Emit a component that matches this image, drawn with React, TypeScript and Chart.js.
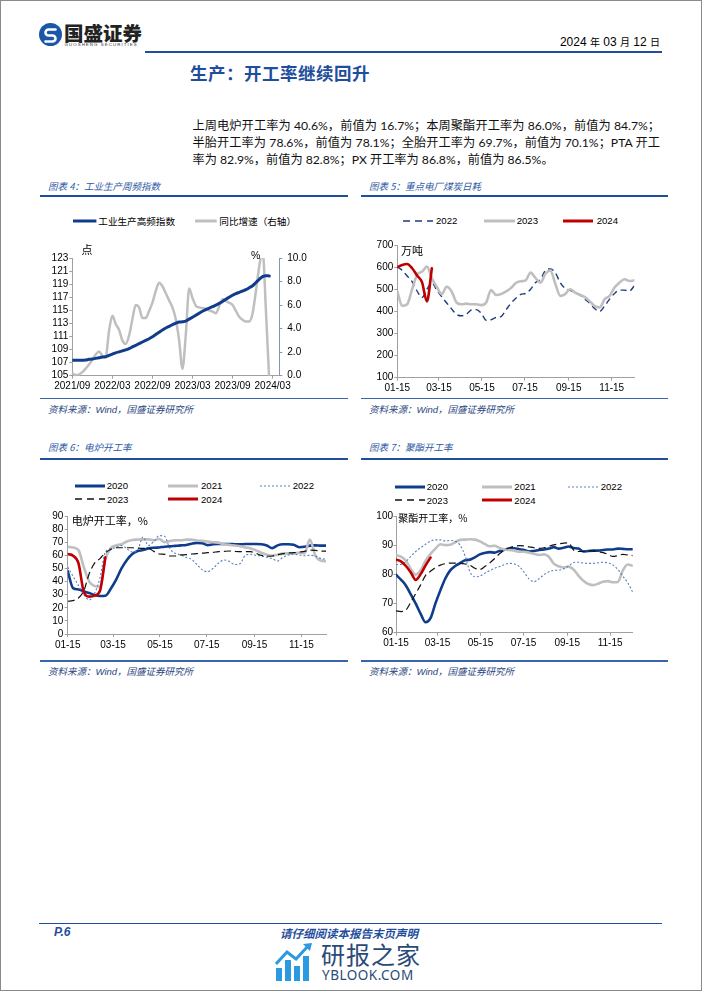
import React, { useEffect, useRef } from 'react';
import { Chart, registerables } from 'chart.js';

Chart.register(...registerables);

// ================= Chart 4: 工业生产周频指数 =================
const C4_TICK_LABELS = ['2021/09', '2022/03', '2022/09', '2023/03', '2023/09', '2024/03'];
const C4_TICK_MONTHS = [0, 6, 12, 18, 24, 30];
// half-month samples starting 2021/09
const IP_INDEX = [
  107.35, 107.35, 107.35, 107.35, 107.4, 107.5, 107.55, 107.65, 107.75, 107.85,
  107.9, 108.1, 108.3, 108.5, 108.65, 108.8, 108.95, 109.15, 109.4, 109.65,
  109.9, 110.15, 110.4, 110.65, 110.95, 111.3, 111.65, 112.0, 112.3, 112.55,
  112.8, 113.05, 113.2, 113.25, 113.35, 113.65, 113.95, 114.25, 114.55, 114.85,
  115.1, 115.35, 115.55, 115.8, 116.05, 116.35, 116.7, 117.0, 117.3, 117.55,
  117.75, 117.95, 118.15, 118.45, 118.75, 119.25, 119.75, 120.15, 120.3, 120.25,
];
const IP_YOY = [
  0.2, 0.05, 0.1, 0.3, 0.6, 0.95, 1.35, 1.8, 2.05, 1.7,
  1.6, 3.8, 5.1, 4.4, 3.9, 3.0, 2.7, 3.4, 4.8, 6.0,
  5.8, 4.9, 4.9, 5.5, 6.2, 7.2, 7.9, 7.6, 7.0, 6.4,
  5.8, 4.8, 3.0, 0.6, 3.5, 7.4, 6.6, 5.95, 5.8, 5.75,
  5.7, 5.55, 5.45, 5.3, 5.9, 6.5, 6.35, 6.2, 6.0, 5.5,
  5.0, 4.75, 4.6, 4.6, 5.3, 7.2, 9.3, 10.6, 5.5, -0.5,
];
const C4_MONTHS = IP_INDEX.map((_, i) => i / 2);

// ================= weekly charts (x = days since 01-15) =================
const WEEK_TICK_LABELS = ['01-15', '03-15', '05-15', '07-15', '09-15', '11-15'];
const WEEK_TICK_DAYS = [0, 59, 120, 181, 243, 304];
const WEEK_DAYS = Array.from({ length: 49 }, (_, i) => i * 7);

// Chart 5: 重点电厂煤炭日耗 (万吨)
const COAL_2022 = [
  602, 585, 560, 534, 492, 462, 500, 530, 495, 466, 438, 411, 386, 380, 388, 406, 408,
  392, 360, 362, 372, 376, 406, 436, 459, 477, 481, 500, 530, 545, 585, 592, 575, 530,
  504, 495, 483, 473, 455, 436, 412, 400, 425, 455, 481, 496, 496, 492, 515,
];
const COAL_2023 = [
  490, 425, 432, 500, 565, 579, 602, 549, 510, 478, 511, 490, 440, 432, 435, 432, 432,
  428, 440, 496, 474, 478, 490, 505, 528, 536, 540, 575, 550, 530, 570, 585, 525, 470,
  478, 500, 485, 475, 464, 445, 424, 418, 455, 470, 508, 530, 545, 537, 540,
];
const COAL_2024 = [600, 610, 614, 595, 562, 532, 445, 595];

// Chart 6: 电炉开工率 (%)
const EAF_2020 = [
  48, 35, 34, 32.5, 31.3, 29.7, 29, 29.2, 34.5, 41.5, 50, 56.5, 61, 63.3, 64, 65.3, 65.8,
  66, 66.6, 66.8, 67.2, 67.6, 67.9, 68.9, 69.5, 69.3, 67.8, 68.4, 68.6, 68.6, 68.6, 68.5,
  68.4, 68.6, 68.6, 68.6, 68.4, 67.5, 65.5, 67.6, 68.4, 68.4, 68, 66.2, 66.5, 67.4, 67.6,
  67.4, 67.4,
];
const EAF_2021 = [
  66.5, 66, 64, 51, 40, 36.5, 36, 57, 65.5, 67.5, 68.5, 70.5, 71.7, 72, 72.2, 72.2, 71.5,
  72.5, 70, 71, 71.5, 71.5, 72, 72, 71.3, 71, 70.5, 70, 69.7, 68.5, 68, 67.5, 67, 66,
  65.3, 63.8, 62, 60.5, 59.7, 60.5, 61.3, 61.5, 61.5, 62, 61.5, 72, 60, 56, 55.5,
];
const EAF_2022 = [
  51, 44, 37, 30, 26, 31, 43, 62.5, 65, 66, 67.5, 65, 62.5, 64, 74, 67.5, 70.5, 75,
  74.5, 65, 61.5, 60.3, 58.5, 57, 53, 49, 47.5, 50, 54, 56.4, 55.5, 53, 53.5, 60, 60.8,
  60, 59.5, 58.5, 57.5, 55.7, 58.5, 60.3, 60.8, 60.3, 59.7, 60, 59.5, 57.7, 57,
];
const EAF_2023 = [
  25, 25.5, 27.5, 33, 46, 54, 57.5, 62, 64.5, 65.8, 65.8, 65.8, 65.8, 65.5, 65.3, 65.3,
  63, 61, 60.8, 59.5, 59.5, 60.3, 60.5, 61, 61.3, 61.7, 62, 62.3, 62.8, 63, 63.3, 63,
  62.8, 62.8, 62.8, 61.5, 60, 59.3, 59.5, 60.5, 61.3, 61.8, 62, 62.5, 63, 64, 63.8, 63.3,
  63.2,
];
const EAF_2024 = [61, 59.7, 54, 32, 28.5, 29.3, 33, 58.5];

// Chart 7: 聚酯开工率 (%)
const PET_2020 = [
  80, 78.3, 76.3, 73.2, 70, 66.5, 63.6, 65, 70.1, 74.6, 78.7, 81.5, 83, 84, 85, 85.2, 86,
  87, 87.5, 87.8, 87.6, 88.2, 88.6, 89, 89.1, 88.8, 88.5, 88, 88.2, 88.5, 88.7, 89, 89.5,
  89, 89.3, 89.7, 89.2, 89, 88, 88.2, 88.3, 88.3, 88.5, 88.7, 88.7, 89, 88.9, 88.8, 88.8,
];
const PET_2021 = [
  86.8, 86.2, 84.8, 82, 80, 81.5, 84.8, 87.2, 89, 90.5, 90.2, 90.3, 91.2, 92, 92.1, 92.2,
  92.1, 91.5, 90.6, 89.8, 90, 89.2, 88.7, 88.5, 88.3, 87.9, 87.9, 87.6, 87.2, 86.8, 87,
  86.2, 83.8, 82.9, 82.5, 82.8, 81.8, 79.7, 77.9, 76.8, 76.4, 76.9, 77.6, 77.8, 77.4,
  77.5, 81.5, 83.5, 83.1,
];
const PET_2022 = [
  83.5, 83.5, 84.5, 86.3, 88, 89.3, 90.5, 91.6, 92, 92, 91.6, 91.8, 91.5, 90.2, 86.5, 81,
  79.3, 79.5, 80.5, 81.4, 82.2, 82.8, 83.5, 83.9, 83.7, 82.8, 80.8, 78.5, 77.6, 78.6, 80,
  81, 81.5, 81.6, 82, 83, 84.2, 84.3, 84, 83.9, 83.9, 84.1, 84.3, 84, 83.4, 81.8, 79.5,
  77.2, 74,
];
const PET_2023 = [
  67.5, 67.3, 67.8, 70.5, 73.5, 76.5, 79.8, 81.2, 82.5, 83.3, 83.8, 84, 84, 83.9, 83.7,
  83.3, 82.2, 81.8, 82.8, 84, 85.6, 87.2, 88.5, 89.3, 89.8, 90, 89.9, 89.6, 89.3, 89.1,
  89.3, 89.8, 90.3, 90.6, 90.9, 91, 88.5, 88, 88, 88.2, 88.2, 88, 87.6, 87, 86.3, 86.6,
  87, 86.8, 86.6,
];
const PET_2024 = [85.2, 84.6, 83, 80.8, 78.2, 80.2, 83.2, 85.9];

// ================= styles =================
const BLUE = '#1f4e9c';
const NAVY = '#0f3c8c';
const GRAY = '#bfbfbf';
const RED = '#c00000';
const LBLUE = '#4f81bd';
const BLACK = '#111111';
const AXIS = '#a0a0a0';
const SLATE = '#8497b0';
const LAT = '"Liberation Sans", Arial, "Noto Sans CJK SC", sans-serif';
const CJK = '"Noto Sans CJK SC", "Liberation Sans", sans-serif';
const TICK_FONT = { family: '"Liberation Sans", Arial, sans-serif', size: 10 };

function axisLines(tickLength: number, color = AXIS) {
  return {
    grid: { display: true, drawOnChartArea: false, drawTicks: true, tickLength, color, lineWidth: 1 },
    border: { display: true, color, width: 1 },
  };
}

function yAxis(min: number, max: number, step: number, width: number, padding: number, tickLength = 3) {
  return {
    type: 'linear',
    position: 'left',
    min,
    max,
    afterFit: (ax: any) => {
      ax.width = width;
    },
    ticks: { stepSize: step, padding, color: '#000', font: TICK_FONT, autoSkip: false },
    ...axisLines(tickLength),
  };
}

function xAxis(max: number, height: number, tickValues: number[], tickLabels: string[]) {
  return {
    type: 'linear',
    min: 0,
    max,
    afterBuildTicks: (ax: any) => {
      ax.ticks = tickValues.map((v) => ({ value: v }));
    },
    afterFit: (ax: any) => {
      ax.height = height;
    },
    ticks: {
      autoSkip: false,
      maxRotation: 0,
      minRotation: 0,
      padding: 2,
      color: '#000',
      font: TICK_FONT,
      callback: (_v: any, i: number) => tickLabels[i],
    },
    ...axisLines(3),
  };
}

function series(
  label: string,
  values: number[],
  xs: number[],
  color: string,
  width: number,
  dash: number[],
  order: number,
  yAxisID = 'y'
) {
  return {
    label,
    data: values.map((v, i) => ({ x: xs[i], y: v })),
    borderColor: color,
    backgroundColor: color,
    borderWidth: width,
    borderDash: dash,
    borderCapStyle: dash.length ? 'butt' : 'round',
    borderJoinStyle: 'round',
    pointRadius: 0,
    pointHoverRadius: 0,
    fill: false,
    tension: 0.4,
    cubicInterpolationMode: 'monotone',
    order,
    yAxisID,
  };
}

function baseOptions(padTop: number, padRight: number, scales: any) {
  return {
    responsive: false,
    maintainAspectRatio: false,
    animation: false,
    events: [],
    layout: { padding: { top: padTop, right: padRight, left: 0, bottom: 0 } },
    plugins: { legend: { display: false }, tooltip: { enabled: false }, title: { display: false } },
    scales,
  };
}

// ---------- chart configs ----------
function buildChart4(): any {
  return {
    type: 'line',
    data: {
      datasets: [
        series('工业生产高频指数', IP_INDEX, C4_MONTHS, NAVY, 3, [], 0, 'y'),
        series('同比增速（右轴）', IP_YOY, C4_MONTHS, GRAY, 2.5, [], 1, 'y1'),
      ],
    },
    options: baseOptions(8.7, 0, {
      x: xAxis(31, 24.3, C4_TICK_MONTHS, C4_TICK_LABELS),
      y: yAxis(105, 123, 2, 32.3, 1),
      y1: {
        type: 'linear',
        position: 'right',
        min: 0,
        max: 10,
        afterFit: (ax: any) => {
          ax.width = 45.7;
        },
        ticks: {
          stepSize: 2,
          padding: 5,
          color: '#000',
          font: TICK_FONT,
          autoSkip: false,
          callback: (v: any) => Number(v).toFixed(1),
        },
        ...axisLines(3, SLATE),
      },
    }),
  };
}

function buildChart5(): any {
  return {
    type: 'line',
    data: {
      datasets: [
        series('2022', COAL_2022, WEEK_DAYS, '#1c3d7c', 1.4, [6, 4], 2),
        series('2023', COAL_2023, WEEK_DAYS, GRAY, 2.6, [], 1),
        series('2024', COAL_2024, WEEK_DAYS, RED, 2.6, [], 0),
      ],
    },
    options: baseOptions(8, 10.7, {
      x: xAxis(336, 22.3, WEEK_TICK_DAYS, WEEK_TICK_LABELS),
      y: yAxis(100, 700, 100, 32.3, 1),
    }),
  };
}

function buildChart6(): any {
  return {
    type: 'line',
    data: {
      datasets: [
        series('2020', EAF_2020, WEEK_DAYS, NAVY, 2.6, [], 4),
        series('2021', EAF_2021, WEEK_DAYS, GRAY, 2.6, [], 3),
        series('2022', EAF_2022, WEEK_DAYS, LBLUE, 1.1, [2, 2], 2),
        series('2023', EAF_2023, WEEK_DAYS, BLACK, 1.2, [7, 4], 1),
        series('2024', EAF_2024, WEEK_DAYS, RED, 2.6, [], 0),
      ],
    },
    options: baseOptions(8, 9, {
      x: xAxis(336, 21, WEEK_TICK_DAYS, WEEK_TICK_LABELS),
      y: yAxis(0, 90, 10, 27.7, 1.4),
    }),
  };
}

function buildChart7(): any {
  return {
    type: 'line',
    data: {
      datasets: [
        series('2020', PET_2020, WEEK_DAYS, NAVY, 2.6, [], 4),
        series('2021', PET_2021, WEEK_DAYS, GRAY, 2.6, [], 3),
        series('2022', PET_2022, WEEK_DAYS, LBLUE, 1.1, [2, 2], 2),
        series('2023', PET_2023, WEEK_DAYS, BLACK, 1.2, [7, 4], 1),
        series('2024', PET_2024, WEEK_DAYS, RED, 2.6, [], 0),
      ],
    },
    options: baseOptions(8.7, 12.3, {
      x: xAxis(336, 22.3, WEEK_TICK_DAYS, WEEK_TICK_LABELS),
      y: yAxis(60, 100, 10, 31, 0.5, 2.5),
    }),
  };
}

// ---------- components ----------
function ChartCanvas(props: { left: number; top: number; width: number; height: number; build: () => any }) {
  const { left, top, width, height, build } = props;
  const ref = useRef<HTMLCanvasElement | null>(null);
  useEffect(() => {
    if (!ref.current) return;
    const chart = new Chart(ref.current, build());
    return () => {
      chart.destroy();
    };
  }, [build]);
  return (
    <div style={{ position: 'absolute', left, top, width, height }}>
      <canvas ref={ref} width={width} height={height} style={{ width, height, display: 'block' }} />
    </div>
  );
}

function Txt(props: {
  x: number;
  cy: number;
  size: number;
  children: React.ReactNode;
  color?: string;
  family?: string;
  weight?: number | string;
  italic?: boolean;
  right?: boolean;
  spacing?: number;
}) {
  const lh = Math.round(props.size * 1.4);
  const style: React.CSSProperties = {
    position: 'absolute',
    top: props.cy - lh / 2,
    lineHeight: `${lh}px`,
    fontSize: props.size,
    color: props.color || '#000',
    fontFamily: props.family || LAT,
    fontWeight: (props.weight as any) || 400,
    fontStyle: props.italic ? 'italic' : 'normal',
    whiteSpace: 'nowrap',
    letterSpacing: props.spacing || 0,
  };
  if (props.right) style.right = 702 - props.x;
  else style.left = props.x;
  return <span style={style}>{props.children}</span>;
}

type LegendItem = { x: number; len: number; y: number; color: string; width: number; dash?: string; label: string; tx: number };

function Legend({ items }: { items: LegendItem[] }) {
  return (
    <>
      {items.map((it) => (
        <React.Fragment key={it.label + it.x + it.y}>
          <svg style={{ position: 'absolute', left: it.x, top: it.y - 5, overflow: 'visible' }} width={it.len} height={10}>
            <line x1={0} y1={5} x2={it.len} y2={5} stroke={it.color} strokeWidth={it.width} strokeDasharray={it.dash} />
          </svg>
          <Txt x={it.tx} cy={it.y} size={9.6} family={LAT}>
            {it.label}
          </Txt>
        </React.Fragment>
      ))}
    </>
  );
}

function HLine({ x1, x2, y, color = BLUE, w = 1.2 }: { x1: number; x2: number; y: number; color?: string; w?: number }) {
  return <div style={{ position: 'absolute', left: x1, top: y - w / 2, width: x2 - x1, height: w, background: color }} />;
}

function Frame({ left, right, titleY, lineY, bottomY, srcY, title }: any) {
  return (
    <>
      <Txt x={left + 8} cy={titleY} size={9.5} color={'#2f5aa6'} family={CJK} italic>
        {title}
      </Txt>
      <HLine x1={left} x2={right} y={lineY} w={1.5} />
      <HLine x1={left} x2={right} y={bottomY} w={1.2} color={'#3a64ad'} />
      <Txt x={left + 8} cy={srcY} size={9.5} color={'#2a4680'} family={LAT} italic>
        资料来源：Wind，国盛证券研究所
      </Txt>
    </>
  );
}

const PARA_LINES = [
  '上周电炉开工率为 40.6%，前值为 16.7%；本周聚酯开工率为 86.0%，前值为 84.7%；',
  '半胎开工率为 78.6%，前值为 78.1%；全胎开工率为 69.7%，前值为 70.1%；PTA 开工',
  '率为 82.9%，前值为 82.8%；PX 开工率为 86.8%，前值为 86.5%。',
];

export default function App() {
  const paraY = [126, 143.3, 160.3];
  return (
    <div
      style={{
        position: 'absolute',
        left: 0,
        top: 0,
        width: 702,
        height: 991,
        boxSizing: 'border-box',
        border: '1px solid #8a8a8a',
        background: '#fff',
        overflow: 'hidden',
      }}
    >
      <div style={{ position: 'absolute', left: -1, top: -1, width: 702, height: 991 }}>
        {/* header */}
        <svg style={{ position: 'absolute', left: 39, top: 23 }} width={23} height={23}>
          <circle cx={11.5} cy={11.5} r={11.5} fill="#1b56a8" />
          <path d="M16.5 6.5 H9.5 a3 3 0 0 0 0 6 h4 a3 3 0 0 1 0 6 H6.5" stroke="#fff" strokeWidth={2.6} fill="none" strokeLinecap="round" />
        </svg>
        <Txt x={64} cy={32.5} size={19.5} weight={900} family={CJK} color={'#222'}>
          国盛证券
        </Txt>
        <Txt x={64.5} cy={44.5} size={4.4} spacing={1.05} color={'#333'}>
          GUOSHENG SECURITIES
        </Txt>
        <Txt x={660} cy={42} size={12} right family={LAT}>
          2024 <span style={{ fontSize: 10 }}>年</span> 03 <span style={{ fontSize: 10 }}>月</span> 12{' '}
          <span style={{ fontSize: 10 }}>日</span>
        </Txt>
        <HLine x1={145} x2={662} y={52} w={1.6} />
        <Txt x={190} cy={72} size={17.5} weight={700} family={CJK} color={BLUE} spacing={0.5}>
          生产：开工率继续回升
        </Txt>

        {/* paragraph */}
        {PARA_LINES.map((ln, i) => (
          <div
            key={i}
            style={{
              position: 'absolute',
              left: 192.5,
              width: 467.5,
              top: paraY[i] - 9,
              height: 18,
              lineHeight: '18px',
              fontSize: 12.2,
              fontFamily: '"Lato", "Noto Sans CJK SC", sans-serif',
              color: '#111',
              whiteSpace: 'nowrap',
              textAlign: i < 2 ? 'justify' : 'left',
              textAlignLast: i < 2 ? 'justify' : 'auto',
            } as React.CSSProperties}
          >
            {ln}
          </div>
        ))}

        {/* frames */}
        <Frame left={40} right={348} titleY={186.7} lineY={196} bottomY={398.3} srcY={409} title="图表 4：工业生产周频指数" />
        <Frame left={361} right={668} titleY={186.7} lineY={196} bottomY={398.3} srcY={409} title="图表 5：重点电厂煤炭日耗" />
        <Frame left={40} right={348} titleY={447.3} lineY={459} bottomY={661} srcY={671.5} title="图表 6：电炉开工率" />
        <Frame left={361} right={668} titleY={447.3} lineY={459} bottomY={661} srcY={671.5} title="图表 7：聚酯开工率" />

        {/* chart 4 */}
        <Legend
          items={[
            { x: 73.3, len: 23.4, y: 221, color: NAVY, width: 3, label: '工业生产高频指数', tx: 98.3 },
            { x: 195, len: 21.7, y: 221, color: GRAY, width: 3, label: '同比增速（右轴）', tx: 219.3 },
          ]}
        />
        <ChartCanvas left={40} top={247} width={285} height={153} build={buildChart4} />
        <Txt x={81.5} cy={249.3} size={11} family={CJK}>
          点
        </Txt>
        <Txt x={251} cy={255} size={10.5}>
          %
        </Txt>

        {/* chart 5 */}
        <Legend
          items={[
            { x: 403.3, len: 30, y: 220.7, color: '#1c3d7c', width: 1.5, dash: '7 5', label: '2022', tx: 436 },
            { x: 484, len: 31, y: 220.7, color: GRAY, width: 3, label: '2023', tx: 516.7 },
            { x: 563.3, len: 30, y: 220.7, color: RED, width: 3, label: '2024', tx: 596.7 },
          ]}
        />
        <ChartCanvas left={365} top={237} width={280} height={163} build={buildChart5} />
        <Txt x={401} cy={250} size={11} family={CJK}>
          万吨
        </Txt>

        {/* chart 6 */}
        <Legend
          items={[
            { x: 75, len: 30, y: 485.7, color: NAVY, width: 3, label: '2020', tx: 106.7 },
            { x: 168.3, len: 30, y: 485.7, color: GRAY, width: 3, label: '2021', tx: 201 },
            { x: 260, len: 30, y: 485.7, color: LBLUE, width: 1.2, dash: '2 2', label: '2022', tx: 292.7 },
            { x: 75, len: 30, y: 499, color: BLACK, width: 1.3, dash: '7 5', label: '2023', tx: 107 },
            { x: 168.3, len: 30, y: 499, color: RED, width: 3, label: '2024', tx: 201 },
          ]}
        />
        <ChartCanvas left={40} top={508} width={295} height={147} build={buildChart6} />
        <Txt x={71.7} cy={520} size={11} family={CJK}>
          电炉开工率，%
        </Txt>

        {/* chart 7 */}
        <Legend
          items={[
            { x: 395, len: 30, y: 486.7, color: NAVY, width: 3, label: '2020', tx: 426.7 },
            { x: 481.7, len: 30, y: 486.7, color: GRAY, width: 3, label: '2021', tx: 514.3 },
            { x: 568.3, len: 30, y: 486.7, color: LBLUE, width: 1.2, dash: '2 2', label: '2022', tx: 600.7 },
            { x: 395, len: 30, y: 500, color: BLACK, width: 1.3, dash: '7 5', label: '2023', tx: 426.7 },
            { x: 481.7, len: 30, y: 500, color: RED, width: 3, label: '2024', tx: 514.3 },
          ]}
        />
        <ChartCanvas left={365} top={508} width={280} height={147} build={buildChart7} />
        <Txt x={398.3} cy={518.3} size={10} family={CJK}>
          聚酯开工率，%
        </Txt>

        {/* footer */}
        <HLine x1={39} x2={662} y={923.5} w={1.6} />
        <Txt x={54} cy={932.7} size={12} weight={700} italic color={BLUE}>
          P.6
        </Txt>
        <Txt x={280} cy={932.5} size={11.5} weight={700} italic family={CJK} color={BLUE}>
          请仔细阅读本报告末页声明
        </Txt>
        <svg style={{ position: 'absolute', left: 275, top: 942 }} width={40} height={40}>
          <rect x={1} y={26} width={6} height={13} fill="#2b9ae0" />
          <rect x={10} y={18} width={6} height={21} fill="#2b9ae0" />
          <rect x={19} y={24} width={6} height={15} fill="#2b9ae0" />
          <rect x={28} y={14} width={6} height={25} fill="#2b9ae0" />
          <polyline points="1,22 12,10 21,17 34,3" stroke="#2b9ae0" strokeWidth={3} fill="none" />
          <polygon points="28,2 37,1 35,9" fill="#2b9ae0" />
        </svg>
        <Txt x={321} cy={954} size={24} family={CJK} color={'#2a4a78'} spacing={1}>
          研报之家
        </Txt>
        <Txt x={322} cy={975} size={13.5} family={'"Noto Sans", sans-serif'} color={'#2a4a78'} spacing={0.5}>
          YBLOOK.COM
        </Txt>
      </div>
    </div>
  );
}
